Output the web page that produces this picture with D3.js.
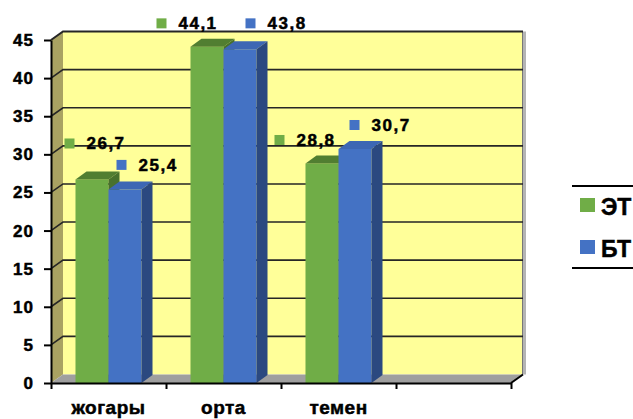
<!DOCTYPE html>
<html>
<head>
<meta charset="utf-8">
<script src="https://cdn.jsdelivr.net/npm/d3@7"></script>
<style>
  html, body { margin: 0; padding: 0; background: #fff; }
  svg { display: block; }
  text { font-family: "Liberation Sans", Arial, sans-serif; font-weight: bold; fill: #000;
         stroke: #000; stroke-width: 0.5px; }
</style>
</head>
<body>
<svg id="chart" width="633" height="419"></svg>
<script>
// Category slots along the floor (the fourth slot is empty)
const categories = ["жогары", "орта", "темен", ""];
const seriesNames = ["ЭТ", "БТ"];
const valuesET = [26.7, 44.1, 28.8, null];
const valuesBT = [25.4, 43.8, 30.7, null];
const yTicks = [0, 5, 10, 15, 20, 25, 30, 35, 40, 45];

// Nudges for each data label (square key + value text), per series
const labelShiftET = [[-11, -36], [-34, -23.5], [-31, -23.5]];
const labelShiftBT = [[8, -24.5], [22, -25.8], [11, -24]];

const seriesColors = {
  "ЭТ": { front: "#70ad47", top: "#517e31", side: "#48712c" },
  "БТ": { front: "#4472c4", top: "#3d67b4", side: "#2b4980" }
};

const svg = d3.select("#chart");

// Front plane of the plot and the 3-D depth offsets
const plotLeft = 51, plotRight = 511, plotBottom = 383, plotTop = 40;
const wall = { dx: 12, dy: -8.5 };
const barDepth = { dx: 11, dy: -8 };

const y = d3.scaleLinear().domain([0, 45]).range([plotBottom, plotTop]);
const x = d3.scaleBand().domain(categories).range([plotLeft, plotRight]);
const xs = d3.scaleBand().domain(seriesNames).range([0, x.bandwidth()])
  .paddingInner(0).paddingOuter(0.742);
const xEdge = d3.scaleLinear().domain([0, categories.length]).range([plotLeft, plotRight]);

const poly = pts => "M" + pts.map(p => p.join(",")).join("L") + "Z";

// Back wall
svg.append("path")
  .attr("d", poly([[plotLeft + wall.dx, y(45) + wall.dy], [plotRight + wall.dx, y(45) + wall.dy],
                   [plotRight + wall.dx, y(0) + wall.dy], [plotLeft + wall.dx, y(0) + wall.dy]]))
  .attr("fill", "#ffff99");
svg.append("line")
  .attr("x1", plotRight + wall.dx + 1.5).attr("x2", plotRight + wall.dx + 1.5)
  .attr("y1", y(45) + wall.dy).attr("y2", y(0) + wall.dy)
  .attr("stroke", "#b4b4b4").attr("stroke-width", 3);
svg.append("line")
  .attr("x1", plotRight + wall.dx - 0.5).attr("x2", plotRight + wall.dx - 0.5)
  .attr("y1", y(45) + wall.dy).attr("y2", y(0) + wall.dy)
  .attr("stroke", "#777").attr("stroke-width", 1);

// Side wall
svg.append("path")
  .attr("d", poly([[plotLeft, y(0)], [plotLeft, y(45)], [plotLeft + wall.dx, y(45) + wall.dy], [plotLeft + wall.dx, y(0) + wall.dy]]))
  .attr("fill", "#a9a262");

// Floor
svg.append("path")
  .attr("d", poly([[plotLeft, y(0)], [plotLeft + wall.dx, y(0) + wall.dy], [plotRight + wall.dx, y(0) + wall.dy], [plotRight, y(0)]]))
  .attr("fill", "#9f9f9f");

// Gridlines running across the side wall and back wall
svg.append("g").selectAll("path")
  .data(yTicks.filter(v => v > 0))
  .join("path")
  .attr("d", v => `M${plotLeft},${y(v)}L${plotLeft + wall.dx},${y(v) + wall.dy}L${plotRight + wall.dx},${y(v) + wall.dy}`)
  .attr("fill", "none")
  .attr("stroke", "#262626")
  .attr("stroke-width", v => v === 45 ? 2 : 1.6);

// 3-D columns
const bars = [];
categories.forEach((c, i) => {
  [[seriesNames[0], valuesET[i]], [seriesNames[1], valuesBT[i]]].forEach(([s, v]) => {
    if (v == null) return;
    bars.push({ cat: c, series: s, value: v });
  });
});

const barG = svg.append("g").selectAll("g").data(bars).join("g");
barG.each(function (d) {
  const g = d3.select(this);
  const x0 = x(d.cat) + xs(d.series), x1 = x0 + xs.bandwidth();
  const yt = y(d.value), yb = y(0);
  const c = seriesColors[d.series];
  g.append("path").attr("d", poly([[x0, yt], [x1, yt], [x1, yb], [x0, yb]])).attr("fill", c.front);
  g.append("path").attr("d", poly([[x0, yt], [x0 + barDepth.dx, yt + barDepth.dy],
                                    [x1 + barDepth.dx, yt + barDepth.dy], [x1, yt]])).attr("fill", c.top);
  g.append("path").attr("d", poly([[x1, yt], [x1 + barDepth.dx, yt + barDepth.dy],
                                    [x1 + barDepth.dx, yb + barDepth.dy], [x1, yb]])).attr("fill", c.side);
});

// Value axis
const yAxis = svg.append("g")
  .attr("transform", `translate(${plotLeft},0)`)
  .call(d3.axisLeft(y).tickValues(yTicks).tickSize(7).tickPadding(10).tickSizeOuter(0));
yAxis.select(".domain").attr("stroke", "#000").attr("stroke-width", 2);
yAxis.selectAll(".tick line").attr("stroke", "#000").attr("stroke-width", 2);
yAxis.selectAll("text").attr("font-size", 17).attr("letter-spacing", "1px")
  .style("font-family", "'Liberation Sans', Arial, sans-serif").style("font-weight", "bold").attr("fill", "#000");

// Category axis: boundary ticks plus centred labels
const xAxis = svg.append("g")
  .attr("transform", `translate(0,${plotBottom})`)
  .call(d3.axisBottom(xEdge).ticks(categories.length).tickFormat("").tickSize(6).tickSizeOuter(0));
xAxis.select(".domain").attr("stroke", "#000").attr("stroke-width", 2);
xAxis.selectAll(".tick line").attr("stroke", "#000").attr("stroke-width", 2);
svg.append("path")
  .attr("d", `M${plotRight},${plotBottom}L${plotRight + wall.dx},${plotBottom + wall.dy}`)
  .attr("stroke", "#000").attr("stroke-width", 2);

const xLab = svg.append("g")
  .attr("transform", `translate(0,${plotBottom})`)
  .call(d3.axisBottom(x).tickSize(0).tickPadding(18));
xLab.select(".domain").remove();
xLab.selectAll("text").attr("font-size", 19).attr("letter-spacing", "0.5px")
  .style("font-family", "'Liberation Sans', Arial, sans-serif").style("font-weight", "bold").attr("fill", "#000");

// Data labels with legend keys
const labels = [];
categories.forEach((c, i) => {
  if (valuesET[i] != null) labels.push({ cat: c, series: "ЭТ", value: valuesET[i], shift: labelShiftET[i] });
  if (valuesBT[i] != null) labels.push({ cat: c, series: "БТ", value: valuesBT[i], shift: labelShiftBT[i] });
});
const fmt = v => d3.format(".1f")(v).replace(".", ",");
const lab = svg.append("g").selectAll("g").data(labels).join("g")
  .attr("transform", d => `translate(${x(d.cat) + xs(d.series) + d.shift[0]},${y(d.value) + d.shift[1]})`);
lab.append("rect").attr("x", 0).attr("y", -5).attr("width", 10).attr("height", 10)
  .attr("fill", d => seriesColors[d.series].front);
lab.append("text").attr("x", 22).attr("dy", "0.35em").attr("font-size", 17).attr("letter-spacing", "1.5px")
  .text(d => fmt(d.value));

// Legend
const legend = svg.append("g");
legend.append("line").attr("x1", 572).attr("x2", 633).attr("y1", 186).attr("y2", 186)
  .attr("stroke", "#000").attr("stroke-width", 2);
legend.append("line").attr("x1", 572).attr("x2", 633).attr("y1", 268).attr("y2", 268)
  .attr("stroke", "#000").attr("stroke-width", 2);
const li = legend.selectAll("g.item").data(seriesNames).join("g")
  .attr("class", "item")
  .attr("transform", (d, i) => `translate(580,${198 + i * 42})`);
li.append("rect").attr("width", 15).attr("height", 14).attr("fill", d => seriesColors[d].front);
li.append("text").attr("x", 21).attr("y", 17).attr("font-size", 23).text(d => d);
</script>
</body>
</html>
